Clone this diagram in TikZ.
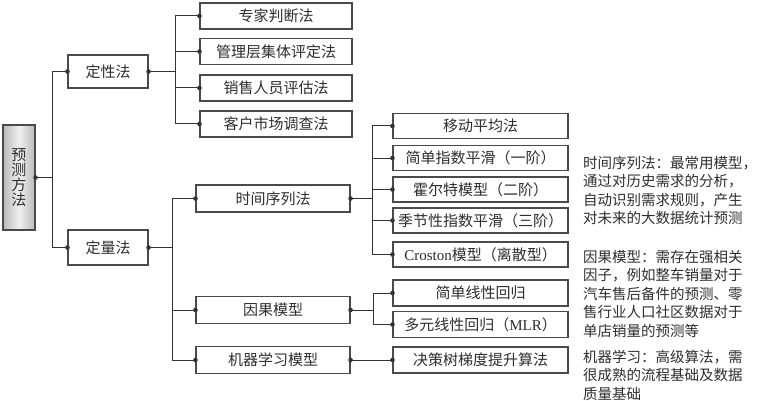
\documentclass[tikz,border=0pt]{standalone}
\usepackage{fontspec}
\setmainfont{Liberation Serif}
\newfontfamily\cjk{Noto Sans CJK SC}
\newfontfamily\lat{Liberation Serif}
\definecolor{boxc}{HTML}{4A4A4A}
\definecolor{linec}{HTML}{333333}
\definecolor{txt}{HTML}{2E2E2E}
\begin{document}
\begin{tikzpicture}[x=1pt,y=-1pt,
  box/.style={draw=boxc, line width=1.1pt, fill=white, inner sep=0pt,
    minimum height=26pt, text=txt, font=\cjk\fontsize{15}{18}\selectfont},
  ln/.style={draw=linec, line width=1pt},
  note/.style={anchor=west, align=left, inner sep=0pt, text=txt,
    font=\cjk\fontsize{14.5}{18.5}\selectfont}]
\useasboundingbox (0,0) rectangle (760,401);
% root
\node[draw=boxc, line width=1.1pt, left color=gray!55, right color=gray!55, middle color=gray!12,
  minimum width=32pt, minimum height=105pt, inner sep=0pt, align=center, text=txt,
  font=\cjk\fontsize{15}{15}\selectfont] (root) at (19,177.5) {预\\测\\方\\法};
% level 1
\node[box, minimum width=80pt, minimum height=33pt] (qual) at (108,71.5) {定性法};
\node[box, minimum width=80pt, minimum height=35pt] (quant) at (108,247.5) {定量法};
% qualitative leaves
\node[box, minimum width=152pt] (l1) at (276,16) {专家判断法};
\node[box, minimum width=152pt] (l2) at (276,51.5) {管理层集体评定法};
\node[box, minimum width=152pt] (l3) at (276,88) {销售人员评估法};
\node[box, minimum width=152pt] (l4) at (276,124) {客户市场调查法};
% quantitative level 2
\node[box, minimum width=154pt, minimum height=27pt] (ts) at (273,198.5) {时间序列法};
\node[box, minimum width=154pt, minimum height=27pt] (ca) at (273,310) {因果模型};
\node[box, minimum width=154pt, minimum height=27pt] (ml) at (273,360) {机器学习模型};
% level 3
\node[box, minimum width=175pt, minimum height=25pt] (t1) at (480.5,126) {移动平均法};
\node[box, minimum width=175pt, minimum height=25pt] (t2) at (480.5,158) {简单指数平滑（一阶）};
\node[box, minimum width=175pt, minimum height=25pt] (t3) at (480.5,189.5) {霍尔特模型（二阶）};
\node[box, minimum width=175pt, minimum height=25pt] (t4) at (480.5,220.5) {季节性指数平滑（三阶）};
\node[box, minimum width=175pt, minimum height=25pt] (t5) at (480.5,254.5) {{\lat Croston}模型（离散型）};
\node[box, minimum width=175pt, minimum height=26pt] (c1) at (480.5,293) {简单线性回归};
\node[box, minimum width=175pt, minimum height=26pt] (c2) at (480.5,324.5) {多元线性回归（{\lat MLR}）};
\node[box, minimum width=175pt, minimum height=26pt] (d1) at (480.5,360) {决策树梯度提升算法};
% bus coordinates
\coordinate (b0) at (52,177.5);
\coordinate (b1) at (175,71.5);
\coordinate (b2) at (172,247.5);
\coordinate (b3) at (372,198.5);
\coordinate (b4) at (373,310);
% connectors
\draw[ln] (root.east) -- (b0);
\draw[ln] (b0) |- (qual.west);
\draw[ln] (b0) |- (quant.west);
\draw[ln] (qual.east) -- (b1);
\foreach \n in {l1,l2,l3,l4} \draw[ln] (b1) |- (\n.west);
\draw[ln] (quant.east) -- (b2);
\foreach \n in {ts,ca,ml} \draw[ln] (b2) |- (\n.west);
\draw[ln] (ts.east) -- (b3);
\foreach \n in {t1,t2,t3,t4,t5} \draw[ln] (b3) |- (\n.west);
\draw[ln] (ca.east) -- (b4);
\foreach \n in {c1,c2} \draw[ln] (b4) |- (\n.west);
\draw[ln] (ml.east) -- (d1.west);
% dots
\foreach \p in {root.east,qual.west,qual.east,quant.west,quant.east,
  l1.west,l2.west,l3.west,l4.west,ts.west,ts.east,ca.west,ca.east,ml.west,ml.east,
  t1.west,t2.west,t3.west,t4.west,t5.west,c1.west,c2.west,d1.west}
  \fill[linec] (\p) circle (2.3pt);
% notes
\node[note] (n1) at (583,190.5) {时间序列法：最常用模型，\\通过对历史需求的分析，\\自动识别需求规则，产生\\对未来的大数据统计预测};
\node[note] (n2) at (583,293.5) {因果模型：需存在强相关\\因子，例如整车销量对于\\汽车售后备件的预测、零\\售行业人口社区数据对于\\单店销量的预测等};
\node[note] (n3) at (583,375) {机器学习：高级算法，需\\很成熟的流程基础及数据\\质量基础};
\end{tikzpicture}
\end{document}
